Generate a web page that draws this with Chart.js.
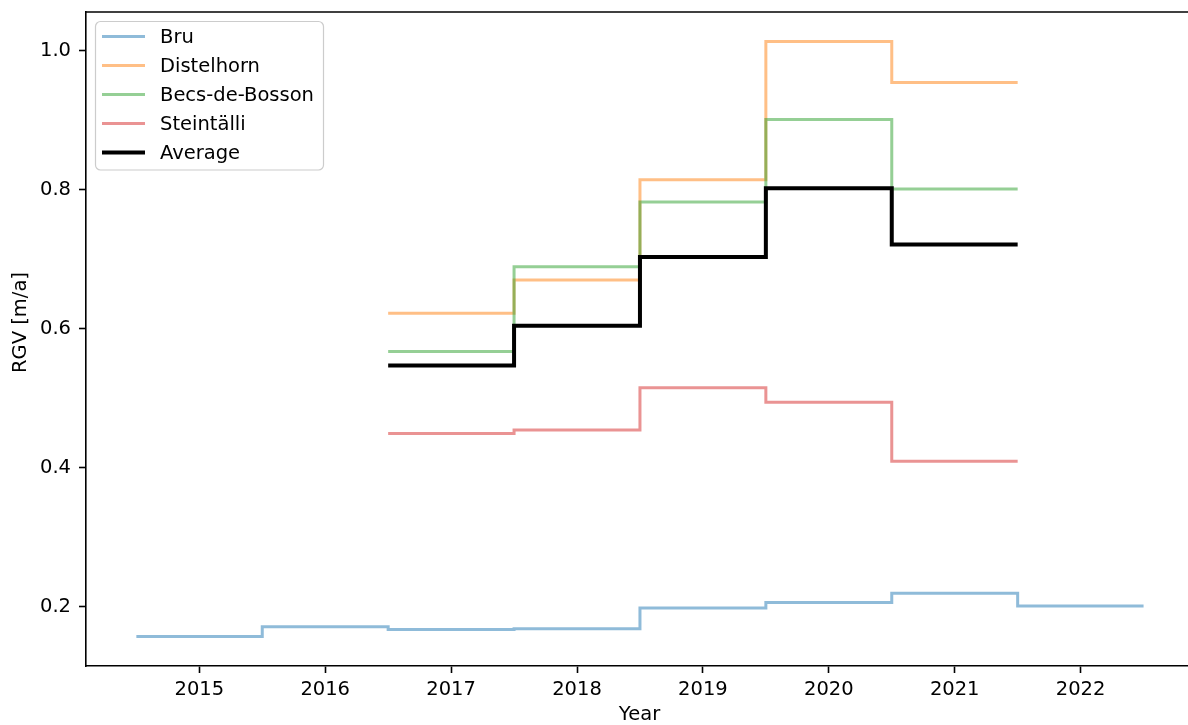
<!DOCTYPE html>
<html>
<head>
<meta charset="utf-8">
<script src="https://cdn.jsdelivr.net/npm/chart.js@4.4.1/dist/chart.umd.min.js"></script>
<style>
  html, body { margin: 0; padding: 0; background: #fff; overflow: hidden; }
  canvas { display: block; }
</style>
</head>
<body>
<canvas id="rgv" width="1188" height="725"></canvas>
<script>
// yearly RGV per rock glacier
const bruYears = [2015, 2016, 2017, 2018, 2019, 2020, 2021, 2022];
const bru = [0.157, 0.171, 0.167, 0.168, 0.198, 0.206, 0.219, 0.201];

const siteYears = [2017, 2018, 2019, 2020, 2021];
const distelhorn = [0.622, 0.670, 0.814, 1.013, 0.954];
const becsDeBosson = [0.567, 0.689, 0.782, 0.901, 0.801];
const steintaelli = [0.449, 0.454, 0.515, 0.494, 0.409];
const average = [0.547, 0.604, 0.703, 0.802, 0.721];

const xTicks = [2015, 2016, 2017, 2018, 2019, 2020, 2021, 2022];
const yTicks = [0.2, 0.4, 0.6, 0.8, 1.0];

const FONT = {family: "'DejaVu Sans', sans-serif", size: 19.5};
Chart.defaults.font.family = FONT.family;
Chart.defaults.font.size = FONT.size;
Chart.defaults.color = '#000';

// each value holds for one whole year centred on it (matplotlib stairs look)
function steps(xs, vs) {
    const pts = vs.map((v, i) => ({x: xs[i] - 0.5, y: v}));
    pts.push({x: xs[xs.length - 1] + 0.5, y: vs[vs.length - 1]});
    return pts;
}

function series(label, xs, vs, color, width, order) {
    return {
        label: label,
        data: steps(xs, vs),
        borderColor: color,
        borderWidth: width,
        stepped: true,
        pointRadius: 0,
        fill: false,
        order: order,
    };
}

// fixed axis sizes, no extra room for the end labels
function fixSize(prop, size) {
    return s => {
        s[prop] = size;
        s.paddingTop = s.paddingBottom = s.paddingLeft = s.paddingRight = 0;
    };
}

// boxed legend in the upper left corner, top spine and axis labels
// (the right spine falls just outside the picture)
const decorations = {
    id: 'decorations',
    afterDatasetsDraw(chart) {
        const ctx = chart.ctx;
        const area = chart.chartArea;
        ctx.save();

        ctx.strokeStyle = '#000';
        ctx.lineWidth = 1.6;
        ctx.beginPath();
        ctx.moveTo(area.left - 0.8, area.top);
        ctx.lineTo(chart.width, area.top);
        ctx.stroke();

        const bx = 95.5, by = 21.5, bw = 228, bh = 148.5;
        ctx.beginPath();
        ctx.roundRect(bx, by, bw, bh, 5);
        ctx.fillStyle = 'rgba(255,255,255,0.8)';
        ctx.fill();
        ctx.strokeStyle = '#cccccc';
        ctx.lineWidth = 1.2;
        ctx.stroke();

        ctx.font = FONT.size + 'px ' + FONT.family;
        ctx.textBaseline = 'middle';
        ctx.textAlign = 'left';
        chart.data.datasets.forEach((ds, i) => {
            const y = 36.5 + i * 29;
            ctx.beginPath();
            ctx.moveTo(102, y);
            ctx.lineTo(145, y);
            ctx.strokeStyle = ds.borderColor;
            ctx.lineWidth = ds.borderWidth;
            ctx.stroke();
            ctx.fillStyle = '#000';
            ctx.fillText(ds.label, 160, y + 1.5);
        });

        ctx.textAlign = 'center';
        ctx.fillText('Year', 639.5, 714.5);

        ctx.translate(21, 322.5);
        ctx.rotate(-Math.PI / 2);
        ctx.fillText('RGV [m/a]', 0, 0);
        ctx.restore();
    }
};

new Chart(document.getElementById('rgv'), {
    type: 'line',
    data: {
        datasets: [
            series('Bru', bruYears, bru, 'rgba(31,119,180,0.5)', 3, 4),
            series('Distelhorn', siteYears, distelhorn, 'rgba(255,127,14,0.5)', 3, 3),
            series('Becs-de-Bosson', siteYears, becsDeBosson, 'rgba(44,160,44,0.5)', 3, 2),
            series('Steintälli', siteYears, steintaelli, 'rgba(214,39,40,0.5)', 3, 1),
            series('Average', siteYears, average, '#000', 4, 0),
        ]
    },
    options: {
        responsive: false,
        animation: false,
        devicePixelRatio: 1,
        layout: {padding: {top: 12, right: 0, left: 0, bottom: 0}},
        plugins: {legend: {display: false}, tooltip: {enabled: false}},
        scales: {
            x: {
                type: 'linear',
                min: 2014.1,
                max: 2022.853,
                afterFit: fixSize('height', 59),
                afterBuildTicks: s => { s.ticks = xTicks.map(v => ({value: v})); },
                ticks: {callback: v => String(v), padding: 5, maxRotation: 0},
                grid: {drawOnChartArea: false, tickLength: 7, tickWidth: 1.6, tickColor: '#000'},
                border: {color: '#000', width: 1.6},
            },
            y: {
                min: 0.1145,
                max: 1.0555,
                afterFit: fixSize('width', 86),
                afterBuildTicks: s => { s.ticks = yTicks.map(v => ({value: v})); },
                ticks: {callback: v => v.toFixed(1), padding: 8},
                grid: {drawOnChartArea: false, tickLength: 7, tickWidth: 1.6, tickColor: '#000'},
                border: {color: '#000', width: 1.6},
            }
        }
    },
    plugins: [decorations]
});
</script>
</body>
</html>
